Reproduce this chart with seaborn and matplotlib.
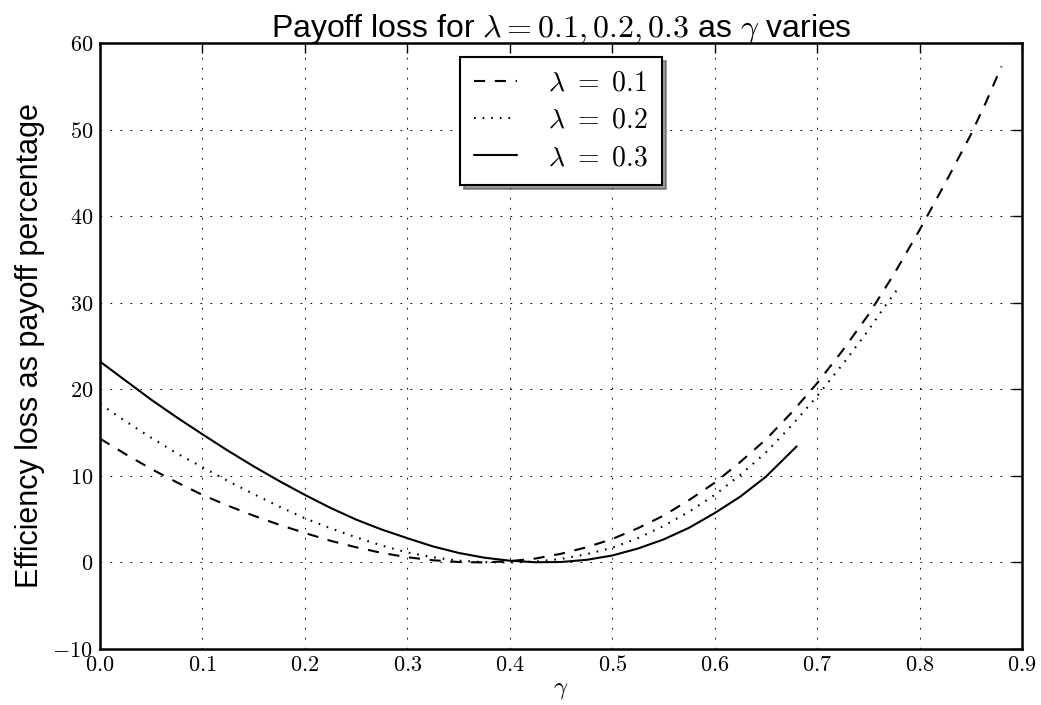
import numpy as np
import pandas as pd
import matplotlib
matplotlib.use('Agg')
import matplotlib.pyplot as plt
from matplotlib.ticker import FuncFormatter, MultipleLocator
import seaborn as sns

# --- datos ---
gamma_01 = [0.00, 0.025, 0.05, 0.075, 0.10, 0.125, 0.15, 0.175, 0.20, 0.225,
            0.25, 0.275, 0.30, 0.325, 0.35, 0.375, 0.40, 0.425, 0.45, 0.475,
            0.50, 0.525, 0.55, 0.575, 0.60, 0.625, 0.65, 0.675, 0.70, 0.725,
            0.75, 0.775, 0.80, 0.825, 0.85, 0.865, 0.88]
loss_01 = [14.3, 12.5, 10.8, 9.25, 7.8, 6.55, 5.4, 4.35, 3.4, 2.5,
           1.75, 1.1, 0.6, 0.25, 0.05, 0.0, 0.15, 0.45, 1.0, 1.75,
           2.7, 3.95, 5.4, 7.2, 9.2, 11.6, 14.2, 17.3, 20.7, 24.5,
           28.6, 33.3, 38.4, 43.8, 49.4, 53.2, 57.3]

gamma_02 = [0.00, 0.025, 0.05, 0.075, 0.10, 0.125, 0.15, 0.175, 0.20, 0.225,
            0.25, 0.275, 0.30, 0.325, 0.35, 0.375, 0.40, 0.425, 0.45, 0.475,
            0.50, 0.525, 0.55, 0.575, 0.60, 0.625, 0.65, 0.675, 0.70, 0.725,
            0.75, 0.765, 0.78]
loss_02 = [18.3, 16.3, 14.4, 12.6, 11.0, 9.4, 7.9, 6.45, 5.1, 3.95,
           2.9, 1.95, 1.15, 0.6, 0.2, 0.03, 0.0, 0.1, 0.4, 0.95,
           1.7, 2.8, 4.2, 5.85, 7.8, 10.1, 12.7, 15.8, 19.2, 22.9,
           26.8, 29.4, 31.8]

gamma_03 = [0.00, 0.025, 0.05, 0.075, 0.10, 0.125, 0.15, 0.175, 0.20, 0.225,
            0.25, 0.275, 0.30, 0.325, 0.35, 0.375, 0.40, 0.425, 0.45, 0.475,
            0.50, 0.525, 0.55, 0.575, 0.60, 0.625, 0.65, 0.68]
loss_03 = [23.2, 21.0, 18.8, 16.75, 14.8, 12.9, 11.1, 9.4, 7.8, 6.3,
           4.95, 3.8, 2.8, 1.85, 1.1, 0.55, 0.2, 0.02, 0.05, 0.3,
           0.8, 1.6, 2.65, 4.0, 5.7, 7.6, 9.9, 13.4]

etiquetas = [r'$\lambda\ =\ 0.1$', r'$\lambda\ =\ 0.2$', r'$\lambda\ =\ 0.3$']

# --- estilo ---
sns.set_style('white')
plt.rcParams['font.family'] = ['Liberation Sans', 'DejaVu Sans']
plt.rcParams['mathtext.fontset'] = 'cm'
plt.rcParams['lines.scale_dashes'] = False
plt.rcParams['axes.unicode_minus'] = True
plt.rcParams['text.color'] = 'black'
plt.rcParams['axes.labelcolor'] = 'black'

fig = plt.figure(figsize=(10.41, 7.05), dpi=100)
ax = fig.add_axes([100 / 1041, 56 / 705, 922 / 1041, 606 / 705])

estilos = [(0, (8, 7)), (0, (1.2, 5.0)), '-']
series = [(gamma_01, loss_01), (gamma_02, loss_02), (gamma_03, loss_03)]
for (g, l), lab, ls in zip(series, etiquetas, estilos):
    sns.lineplot(x=g, y=l, ax=ax, color='black', linestyle=ls,
                 linewidth=1.5, label=lab)

ax.set_xlim(0, 0.9)
ax.set_ylim(-10, 60)
ax.xaxis.set_major_locator(MultipleLocator(0.1))
ax.yaxis.set_major_locator(MultipleLocator(10))
ax.xaxis.set_major_formatter(FuncFormatter(lambda v, p: r'$%.1f$' % v))
ax.yaxis.set_major_formatter(FuncFormatter(lambda v, p: r'$%d$' % round(v)))

ax.grid(True, color='black', linestyle=(0, (1.2, 6)), linewidth=0.7)
ax.tick_params(direction='in', length=7, width=1, top=True, right=True,
               labelsize=16, pad=4, colors='black')
ax.tick_params(axis='y', pad=5)
for s in ax.spines.values():
    s.set_linewidth(1.8)
    s.set_color('black')

ax.set_title(r'Payoff loss for $\lambda=0.1, 0.2, 0.3$ as $\gamma$ varies',
             fontsize=23, pad=4, color='black')
ax.set_xlabel(r'$\gamma$', fontsize=18, labelpad=1)
ax.set_ylabel('Efficiency loss as payoff percentage', fontsize=22, labelpad=5)

leg = ax.legend(loc='upper center', shadow={'ox': 3, 'oy': -3, 'shade': 0.75},
                fancybox=False, fontsize=20, handlelength=1.55,
                handletextpad=1.1, labelspacing=0.4, borderpad=0.5,
                framealpha=1)
leg.get_frame().set_edgecolor('black')
leg.get_frame().set_linewidth(1.5)

fig.savefig('out.png', dpi=100)
